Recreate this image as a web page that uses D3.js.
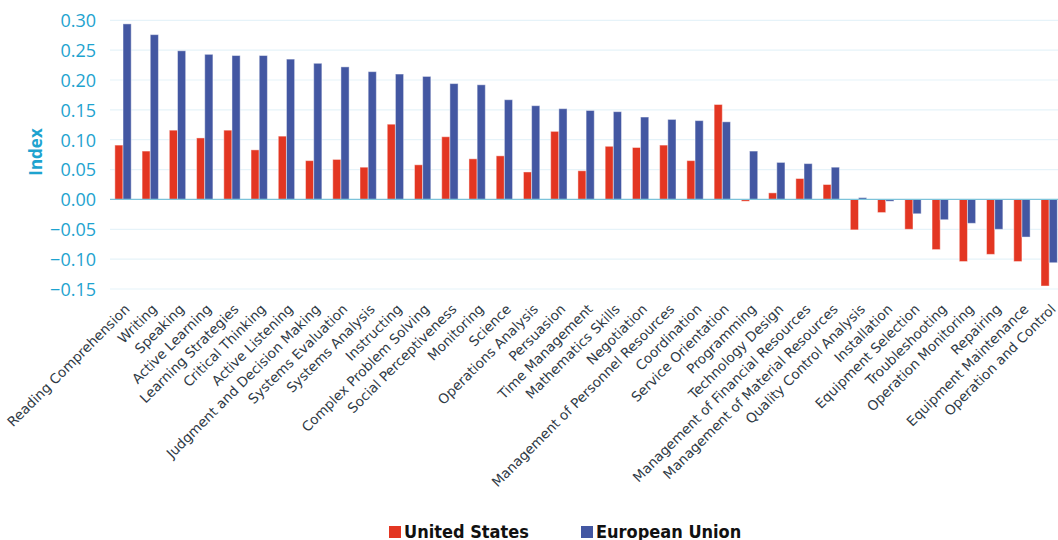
<!DOCTYPE html>
<html>
<head>
<meta charset="utf-8">
<script src="https://cdn.jsdelivr.net/npm/d3@7"></script>
<style>
  body { margin: 0; background: #fff; }
  svg { display: block; }
</style>
</head>
<body>
<div id="chart"></div>
<script>

const skills = ['Reading Comprehension', 'Writing', 'Speaking', 'Active Learning', 'Learning Strategies',
  'Critical Thinking', 'Active Listening', 'Judgment and Decision Making', 'Systems Evaluation',
  'Systems Analysis', 'Instructing', 'Complex Problem Solving', 'Social Perceptiveness', 'Monitoring',
  'Science', 'Operations Analysis', 'Persuasion', 'Time Management', 'Mathematics Skills', 'Negotiation',
  'Management of Personnel Resources', 'Coordination', 'Service Orientation', 'Programming',
  'Technology Design', 'Management of Financial Resources', 'Management of Material Resources',
  'Quality Control Analysis', 'Installation', 'Equipment Selection', 'Troubleshooting',
  'Operation Monitoring', 'Repairing', 'Equipment Maintenance', 'Operation and Control'];

const us_values = [0.091, 0.081, 0.116, 0.103, 0.116, 0.083, 0.106, 0.065, 0.067, 0.054,
  0.126, 0.058, 0.105, 0.068, 0.073, 0.046, 0.114, 0.048, 0.089, 0.087,
  0.091, 0.065, 0.159, -0.003, 0.011, 0.035, 0.025, -0.051, -0.022, -0.050,
  -0.084, -0.104, -0.092, -0.104, -0.145];

const eu_values = [0.294, 0.276, 0.249, 0.243, 0.241, 0.241, 0.235, 0.228, 0.222, 0.214,
  0.210, 0.206, 0.194, 0.192, 0.167, 0.157, 0.152, 0.149, 0.147, 0.138,
  0.134, 0.132, 0.130, 0.081, 0.062, 0.060, 0.054, 0.003, -0.003, -0.024,
  -0.034, -0.040, -0.050, -0.063, -0.106];

const series_names = ['United States', 'European Union'];
const y_ticks = [-0.15, -0.10, -0.05, 0, 0.05, 0.10, 0.15, 0.20, 0.25, 0.30];

const width = 1058, height = 540;
const colors = ['#e33622', '#4357a2'];
const teal = '#1ea3cf';

const svg = d3.select('#chart').append('svg')
  .attr('width', width)
  .attr('height', height)
  .attr('viewBox', [0, 0, width, height]);

// Scales //////////////////////////////////////////////////////////////////

const x = d3.scaleBand().domain(skills).range([109.4, 1062.8]).paddingInner(0.4).paddingOuter(0.2);
const xs = d3.scaleBand().domain(series_names).range([0, x.bandwidth()]);
const y = d3.scaleLinear().domain([-0.15, 0.30]).range([289, 20.3]);

// Grid + y axis ///////////////////////////////////////////////////////////

const grid = svg.append('g').attr('id', 'grid');
grid.selectAll('line')
  .data(y_ticks.filter(d => d !== 0))
  .join('line')
  .attr('x1', 110).attr('x2', width)
  .attr('y1', d => y(d)).attr('y2', d => y(d))
  .attr('stroke', '#e6f3f9').attr('stroke-width', 1.2);

const yAxis = svg.append('g')
  .attr('transform', 'translate(100,0)')
  .call(d3.axisLeft(y).tickValues(y_ticks).tickFormat(d3.format('.2f')).tickSize(0).tickPadding(4));
yAxis.select('.domain').remove();
yAxis.selectAll('text')
  .attr('fill', teal)
  .attr('font-family', 'Open Sans, sans-serif')
  .attr('font-size', 18)
  .attr('dy', '0.35em');

svg.append('text')
  .attr('transform', 'translate(42,152) rotate(-90)')
  .attr('text-anchor', 'middle')
  .attr('fill', teal)
  .attr('font-family', 'Open Sans, sans-serif')
  .attr('font-weight', 'bold')
  .attr('font-size', 17)
  .text('Index');

// Bars ////////////////////////////////////////////////////////////////////

const rows = skills.map((s, i) => ({ skill: s, values: [us_values[i], eu_values[i]] }));

svg.append('g').attr('id', 'bars')
  .selectAll('g')
  .data(rows)
  .join('g')
  .attr('transform', d => `translate(${x(d.skill)},0)`)
  .selectAll('rect')
  .data(d => d.values.map((v, k) => ({ key: series_names[k], v, k })))
  .join('rect')
  .attr('x', d => xs(d.key))
  .attr('width', xs.bandwidth())
  .attr('y', d => y(Math.max(0, d.v)))
  .attr('height', d => Math.abs(y(d.v) - y(0)))
  .attr('fill', d => colors[d.k])
  .attr('stroke', 'rgba(255,255,255,0.45)')
  .attr('stroke-width', 1);

// zero line
svg.append('line')
  .attr('x1', 110).attr('x2', width)
  .attr('y1', y(0)).attr('y2', y(0))
  .attr('stroke', '#7cc3da').attr('stroke-width', 1.2);

// Category labels /////////////////////////////////////////////////////////

svg.append('g').attr('id', 'labels')
  .selectAll('text')
  .data(skills)
  .join('text')
  .attr('transform', d => `translate(${x(d) + x.bandwidth() / 2 + 7.5},310) rotate(-45)`)
  .attr('text-anchor', 'end')
  .attr('fill', '#2f3a45')
  .attr('font-family', 'DejaVu Sans, sans-serif')
  .attr('font-size', 13.6)
  .text(d => d);

// Legend //////////////////////////////////////////////////////////////////

const legend = svg.append('g').attr('id', 'legend')
  .selectAll('g')
  .data(series_names)
  .join('g')
  .attr('transform', (d, i) => `translate(${[389, 581][i]},526)`);

legend.append('rect')
  .attr('width', 12).attr('height', 12)
  .attr('fill', (d, i) => colors[i]);

legend.append('text')
  .attr('x', 15).attr('y', 11.5)
  .attr('fill', '#111')
  .attr('font-family', 'DejaVu Sans Condensed, DejaVu Sans, sans-serif')
  .attr('font-stretch', 'condensed')
  .attr('font-weight', 'bold')
  .attr('font-size', 18)
  .text(d => d);

</script>
</body>
</html>
